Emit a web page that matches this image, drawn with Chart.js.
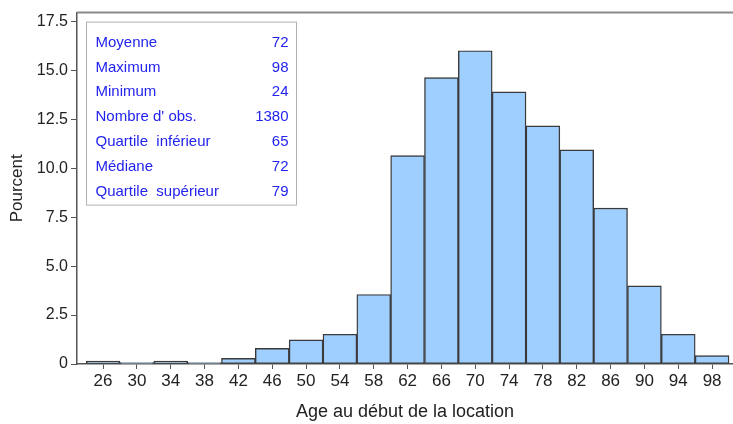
<!DOCTYPE html>
<html><head><meta charset="utf-8">
<script src="https://cdn.jsdelivr.net/npm/chart.js@4/dist/chart.umd.min.js"></script>
<style>html,body{margin:0;padding:0;background:#fff}#wrap{width:733px;height:424px}</style>
</head><body><div id="wrap"><canvas id="c" width="733" height="424"></canvas></div>
<script>
const binCenters = [26,30,34,38,42,46,50,54,58,62,66,70,74,78,82,86,90,94,98];
const percents = [0.15,0.07,0.15,0.07,0.29,0.8,1.23,1.52,3.55,10.65,14.64,16.01,13.91,12.17,10.94,7.97,3.99,1.52,0.43];
const xTickValues = [26,30,34,38,42,46,50,54,58,62,66,70,74,78,82,86,90,94,98];
const yTickValues = [0,2.5,5,7.5,10,12.5,15,17.5];
const statLabels = ["Moyenne","Maximum","Minimum","Nombre d' obs.","Quartile  inférieur","Médiane","Quartile  supérieur"];
const statValues = ["72","98","24","1380","65","72","79"];

const FONT = "'Liberation Sans', Arial, sans-serif";

const statsBox = {
  id: 'statsBox',
  afterDraw(chart) {
    const ctx = chart.ctx, a = chart.chartArea;
    ctx.save();
    ctx.strokeStyle = '#8a8a8a'; ctx.lineWidth = 2;
    ctx.beginPath(); ctx.moveTo(a.left, a.top); ctx.lineTo(a.right, a.top); ctx.stroke();
    const bx = a.left + 9.5, by = a.top + 9.5, bw = 210, bh = 183;
    ctx.strokeStyle = '#b0b0b0'; ctx.lineWidth = 1;
    ctx.strokeRect(bx, by, bw, bh);
    ctx.fillStyle = '#2323ee';
    ctx.font = '15px ' + FONT;
    ctx.textBaseline = 'middle';
    for (let i = 0; i < statLabels.length; i++) {
      const yy = by + 20.5 + i * 24.8;
      ctx.textAlign = 'left';
      ctx.fillText(statLabels[i], bx + 9, yy);
      ctx.textAlign = 'right';
      ctx.fillText(statValues[i], bx + bw - 8, yy);
    }
    ctx.restore();
  }
};

new Chart(document.getElementById('c'), {
  type: 'bar',
  data: {
    datasets: [{
      data: binCenters.map((x, i) => ({x: x, y: percents[i]})),
      backgroundColor: '#9fcfff',
      borderColor: '#3a3a3a',
      borderWidth: 1.4,
      barPercentage: 1,
      categoryPercentage: 1,
      borderSkipped: false
    }]
  },
  options: {
    responsive: false,
    animation: false,
    events: [],
    layout: { padding: { top: 11, right: 0, bottom: 0, left: 0 } },
    plugins: { legend: { display: false }, tooltip: { enabled: false } },
    scales: {
      x: {
        type: 'linear',
        offset: false,
        min: 22.92, max: 100.47,
        afterBuildTicks: s => { s.ticks = xTickValues.map(v => ({value: v})); },
        afterFit: s => { s.height = 60; },
        ticks: { color: '#222', font: { family: FONT, size: 17 }, padding: 2, maxRotation: 0, autoSkip: false,
                 callback: v => String(v) },
        grid: { display: true, offset: false, drawOnChartArea: false, tickLength: 5, color: '#555', tickColor: '#555' },
        border: { display: true, color: '#555', width: 1.5 },
        title: { display: true, text: 'Age au début de la location', color: '#222',
                 font: { family: FONT, size: 18 }, padding: { top: 0, bottom: 1 } }
      },
      y: {
        min: 0, max: 17.96,
        afterBuildTicks: s => { s.ticks = yTickValues.map(v => ({value: v})); },
        afterFit: s => { s.width = 77; },
        ticks: { color: '#222', font: { family: FONT, size: 16 }, padding: 3,
                 callback: v => v === 0 ? '0' : v.toFixed(1) },
        grid: { display: true, drawOnChartArea: false, tickLength: 6, color: '#555', tickColor: '#555' },
        border: { display: true, color: '#555', width: 1.5 },
        title: { display: true, text: 'Pourcent', color: '#222',
                 font: { family: FONT, size: 17 }, padding: { top: 7, bottom: 0 } }
      }
    }
  },
  plugins: [statsBox]
});
</script></body></html>
